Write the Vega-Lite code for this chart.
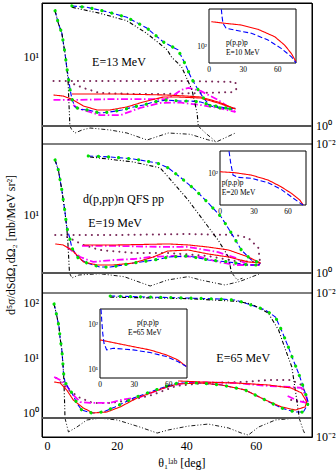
{
"$schema":"https://vega.github.io/schema/vega-lite/v6.json",
"width":270,"height":434,
"autosize":{"type":"none"},
"padding":{"left":42,"top":3,"right":24,"bottom":37},
"config":{"view":{"stroke":"#000","strokeWidth":1},"font":"Liberation Serif",
"axis":{"grid":false,"domain":false,"labels":false,"tickColor":"#000","tickWidth":1,"title":null},
"text":{"font":"Liberation Serif","color":"#000"}},
"data":{"values":[
{"p":1,"r":"m","s":"b","br":"a","x":2.16,"y":30.9},{"p":1,"r":"m","s":"b","br":"a","x":3.1,"y":22.7},{"p":1,"r":"m","s":"b","br":"a","x":4.1,"y":17.9},{"p":1,"r":"m","s":"b","br":"a","x":5,"y":11},{"p":1,"r":"m","s":"b","br":"a","x":5.5,"y":7.84},{"p":1,"r":"m","s":"b","br":"a","x":6,"y":6},{"p":1,"r":"m","s":"b","br":"a","x":6.5,"y":4.48},{"p":1,"r":"m","s":"b","br":"a","x":7,"y":3.59},{"p":1,"r":"m","s":"b","br":"a","x":7.9,"y":2.96},{"p":1,"r":"m","s":"b","br":"a","x":9.5,"y":2.78},{"p":1,"r":"m","s":"b","br":"a","x":11.7,"y":2.75},{"p":1,"r":"m","s":"b","br":"a","x":15,"y":2.55},{"p":1,"r":"m","s":"b","br":"a","x":18,"y":2.62},{"p":1,"r":"m","s":"b","br":"a","x":21.4,"y":2.75},{"p":1,"r":"m","s":"b","br":"a","x":24.7,"y":2.96},{"p":1,"r":"m","s":"b","br":"a","x":27.6,"y":3.1},{"p":1,"r":"m","s":"b","br":"a","x":30.4,"y":3.34},{"p":1,"r":"m","s":"b","br":"a","x":34.3,"y":3.5},{"p":1,"r":"m","s":"b","br":"a","x":38,"y":3.42},{"p":1,"r":"m","s":"b","br":"a","x":41,"y":3.42},{"p":1,"r":"m","s":"b","br":"a","x":44,"y":3.34},{"p":1,"r":"m","s":"b","br":"a","x":46.8,"y":3.1},{"p":1,"r":"m","s":"b","br":"a","x":49.6,"y":2.96},{"p":1,"r":"m","s":"b","br":"a","x":52.8,"y":2.82},{"p":1,"r":"m","s":"b","br":"a","x":54,"y":2.89},
{"p":1,"r":"m","s":"b","br":"b","x":7,"y":34.7},{"p":1,"r":"m","s":"b","br":"b","x":11.3,"y":33.6},{"p":1,"r":"m","s":"b","br":"b","x":17,"y":30.2},{"p":1,"r":"m","s":"b","br":"b","x":22.8,"y":26.3},{"p":1,"r":"m","s":"b","br":"b","x":28.5,"y":20.3},{"p":1,"r":"m","s":"b","br":"b","x":33.3,"y":14.4},{"p":1,"r":"m","s":"b","br":"b","x":37.5,"y":11.9},{"p":1,"r":"m","s":"b","br":"b","x":39.5,"y":8.5},{"p":1,"r":"m","s":"b","br":"b","x":41.3,"y":6},{"p":1,"r":"m","s":"b","br":"b","x":43.3,"y":4.48},{"p":1,"r":"m","s":"b","br":"b","x":44.8,"y":3.68},{"p":1,"r":"m","s":"b","br":"b","x":46.8,"y":3.03},{"p":1,"r":"m","s":"b","br":"b","x":49.6,"y":2.89},{"p":1,"r":"m","s":"b","br":"b","x":52.8,"y":2.82},{"p":1,"r":"m","s":"b","br":"b","x":54,"y":2.89},
{"p":1,"r":"m","s":"g","br":"a","x":2.16,"y":30.9},{"p":1,"r":"m","s":"g","br":"a","x":3.1,"y":22.7},{"p":1,"r":"m","s":"g","br":"a","x":4.1,"y":17.9},{"p":1,"r":"m","s":"g","br":"a","x":5,"y":11},{"p":1,"r":"m","s":"g","br":"a","x":5.5,"y":7.84},{"p":1,"r":"m","s":"g","br":"a","x":6,"y":6},{"p":1,"r":"m","s":"g","br":"a","x":6.5,"y":4.48},{"p":1,"r":"m","s":"g","br":"a","x":7,"y":3.59},{"p":1,"r":"m","s":"g","br":"a","x":7.9,"y":2.96},{"p":1,"r":"m","s":"g","br":"a","x":9.5,"y":2.78},{"p":1,"r":"m","s":"g","br":"a","x":11.7,"y":2.75},{"p":1,"r":"m","s":"g","br":"a","x":15,"y":2.55},{"p":1,"r":"m","s":"g","br":"a","x":18,"y":2.62},{"p":1,"r":"m","s":"g","br":"a","x":21.4,"y":2.75},{"p":1,"r":"m","s":"g","br":"a","x":24.7,"y":2.96},{"p":1,"r":"m","s":"g","br":"a","x":27.6,"y":3.1},{"p":1,"r":"m","s":"g","br":"a","x":30.4,"y":3.34},{"p":1,"r":"m","s":"g","br":"a","x":34.3,"y":3.5},{"p":1,"r":"m","s":"g","br":"a","x":38,"y":3.42},{"p":1,"r":"m","s":"g","br":"a","x":41,"y":3.42},{"p":1,"r":"m","s":"g","br":"a","x":44,"y":3.34},{"p":1,"r":"m","s":"g","br":"a","x":46.8,"y":3.1},{"p":1,"r":"m","s":"g","br":"a","x":49.6,"y":2.96},{"p":1,"r":"m","s":"g","br":"a","x":52.8,"y":2.82},{"p":1,"r":"m","s":"g","br":"a","x":54,"y":2.89},
{"p":1,"r":"m","s":"g","br":"b","x":7,"y":34.7},{"p":1,"r":"m","s":"g","br":"b","x":11.3,"y":33.6},{"p":1,"r":"m","s":"g","br":"b","x":17,"y":30.2},{"p":1,"r":"m","s":"g","br":"b","x":22.8,"y":26.3},{"p":1,"r":"m","s":"g","br":"b","x":28.5,"y":20.3},{"p":1,"r":"m","s":"g","br":"b","x":33.3,"y":14.4},{"p":1,"r":"m","s":"g","br":"b","x":37.5,"y":11.9},{"p":1,"r":"m","s":"g","br":"b","x":39.5,"y":8.5},{"p":1,"r":"m","s":"g","br":"b","x":41.3,"y":6},{"p":1,"r":"m","s":"g","br":"b","x":43.3,"y":4.48},{"p":1,"r":"m","s":"g","br":"b","x":44.8,"y":3.68},{"p":1,"r":"m","s":"g","br":"b","x":46.8,"y":3.03},{"p":1,"r":"m","s":"g","br":"b","x":49.6,"y":2.89},{"p":1,"r":"m","s":"g","br":"b","x":52.8,"y":2.82},{"p":1,"r":"m","s":"g","br":"b","x":54,"y":2.89},
{"p":1,"r":"m","s":"k","br":"a","x":2.16,"y":30.9},{"p":1,"r":"m","s":"k","br":"a","x":3.1,"y":22.7},{"p":1,"r":"m","s":"k","br":"a","x":4.1,"y":17.9},{"p":1,"r":"m","s":"k","br":"a","x":5,"y":11},{"p":1,"r":"m","s":"k","br":"a","x":5.5,"y":7.84},{"p":1,"r":"m","s":"k","br":"a","x":5.9,"y":5.6},{"p":1,"r":"m","s":"k","br":"a","x":6.1,"y":3.5},{"p":1,"r":"m","s":"k","br":"a","x":6.3,"y":2.4},{"p":1,"r":"m","s":"k","br":"a","x":6.4,"y":1.87},
{"p":1,"r":"m","s":"k","br":"b","x":7,"y":33.6},{"p":1,"r":"m","s":"k","br":"b","x":15.1,"y":29},{"p":1,"r":"m","s":"k","br":"b","x":22.8,"y":24.2},{"p":1,"r":"m","s":"k","br":"b","x":28.5,"y":17.8},{"p":1,"r":"m","s":"k","br":"b","x":34.4,"y":11.9},{"p":1,"r":"m","s":"k","br":"b","x":35.6,"y":10},{"p":1,"r":"m","s":"k","br":"b","x":38.5,"y":7.9},{"p":1,"r":"m","s":"k","br":"b","x":41.5,"y":4.48},{"p":1,"r":"m","s":"k","br":"b","x":43,"y":2.53},{"p":1,"r":"m","s":"k","br":"b","x":43.3,"y":1.87},
{"p":1,"r":"l","s":"k","br":"a","x":6.4,"y":1},{"p":1,"r":"l","s":"k","br":"a","x":7,"y":0.36},{"p":1,"r":"l","s":"k","br":"a","x":7.9,"y":0.167},{"p":1,"r":"l","s":"k","br":"a","x":9.9,"y":0.36},{"p":1,"r":"l","s":"k","br":"a","x":12.2,"y":0.6},{"p":1,"r":"l","s":"k","br":"a","x":18,"y":0.36},{"p":1,"r":"l","s":"k","br":"a","x":22.8,"y":0.167},{"p":1,"r":"l","s":"k","br":"a","x":28.6,"y":0.028},{"p":1,"r":"l","s":"k","br":"a","x":34.7,"y":0.167},{"p":1,"r":"l","s":"k","br":"a","x":41,"y":0.12},{"p":1,"r":"l","s":"k","br":"a","x":46,"y":0.03},{"p":1,"r":"l","s":"k","br":"a","x":48.5,"y":0.017},{"p":1,"r":"l","s":"k","br":"a","x":54,"y":0.167},
{"p":1,"r":"l","s":"k","br":"b","x":43.3,"y":1},{"p":1,"r":"l","s":"k","br":"b","x":45.5,"y":0.15},{"p":1,"r":"l","s":"k","br":"b","x":48.5,"y":0.017},
{"p":1,"r":"m","s":"r","br":"a","x":1.7,"y":3.96},{"p":1,"r":"m","s":"r","br":"a","x":4.5,"y":3.86},{"p":1,"r":"m","s":"r","br":"a","x":7,"y":3.57},{"p":1,"r":"m","s":"r","br":"a","x":10.3,"y":3.03},{"p":1,"r":"m","s":"r","br":"a","x":14.2,"y":2.75},{"p":1,"r":"m","s":"r","br":"a","x":18,"y":2.75},{"p":1,"r":"m","s":"r","br":"a","x":22.8,"y":2.96},{"p":1,"r":"m","s":"r","br":"a","x":27.5,"y":3.34},{"p":1,"r":"m","s":"r","br":"a","x":33.3,"y":3.77},{"p":1,"r":"m","s":"r","br":"a","x":37.5,"y":3.77},{"p":1,"r":"m","s":"r","br":"a","x":44,"y":3.68},{"p":1,"r":"m","s":"r","br":"a","x":49,"y":3.26},{"p":1,"r":"m","s":"r","br":"a","x":54,"y":2.82},
{"p":1,"r":"m","s":"r","br":"b","x":7,"y":4.06},{"p":1,"r":"m","s":"r","br":"b","x":20,"y":4.06},{"p":1,"r":"m","s":"r","br":"b","x":34,"y":3.96},{"p":1,"r":"m","s":"r","br":"b","x":40,"y":3.86},{"p":1,"r":"m","s":"r","br":"b","x":44,"y":3.77},{"p":1,"r":"m","s":"r","br":"b","x":49,"y":3.34},{"p":1,"r":"m","s":"r","br":"b","x":54,"y":2.82},
{"p":1,"r":"m","s":"m","br":"a","x":1.7,"y":3.51},{"p":1,"r":"m","s":"m","br":"a","x":7,"y":3.51},{"p":1,"r":"m","s":"m","br":"a","x":20,"y":3.59},{"p":1,"r":"m","s":"m","br":"a","x":34,"y":3.59},{"p":1,"r":"m","s":"m","br":"a","x":36.5,"y":4},{"p":1,"r":"m","s":"m","br":"a","x":38.4,"y":4.48},{"p":1,"r":"m","s":"m","br":"a","x":40.5,"y":4.7},{"p":1,"r":"m","s":"m","br":"a","x":44,"y":4.37},{"p":1,"r":"m","s":"m","br":"a","x":49,"y":3.51},{"p":1,"r":"m","s":"m","br":"a","x":54,"y":2.62},
{"p":1,"r":"m","s":"m","br":"b","x":7.4,"y":3.1},{"p":1,"r":"m","s":"m","br":"b","x":8.5,"y":2.89},{"p":1,"r":"m","s":"m","br":"b","x":15,"y":2.43},{"p":1,"r":"m","s":"m","br":"b","x":21,"y":2.43},{"p":1,"r":"m","s":"m","br":"b","x":26.6,"y":2.89},{"p":1,"r":"m","s":"m","br":"b","x":32.4,"y":3.26},{"p":1,"r":"m","s":"m","br":"b","x":38,"y":3.3},{"p":1,"r":"m","s":"m","br":"b","x":44,"y":3.1},{"p":1,"r":"m","s":"m","br":"b","x":49,"y":2.89},{"p":1,"r":"m","s":"m","br":"b","x":54,"y":2.62},
{"p":1,"r":"m","s":"d","br":"a","x":1.7,"y":5.57},{"p":1,"r":"m","s":"d","br":"a","x":20,"y":5.57},{"p":1,"r":"m","s":"d","br":"a","x":40,"y":5.57},{"p":1,"r":"m","s":"d","br":"a","x":54,"y":5.44},{"p":1,"r":"m","s":"d","br":"a","x":54.3,"y":4.3},
{"p":1,"r":"m","s":"d","br":"b","x":6,"y":5.44},{"p":1,"r":"m","s":"d","br":"b","x":10.3,"y":4.7},{"p":1,"r":"m","s":"d","br":"b","x":15,"y":4.16},{"p":1,"r":"m","s":"d","br":"b","x":24.7,"y":4.06},{"p":1,"r":"m","s":"d","br":"b","x":34,"y":4.06},{"p":1,"r":"m","s":"d","br":"b","x":44,"y":4.16},{"p":1,"r":"m","s":"d","br":"b","x":54.3,"y":4.26},
{"p":2,"r":"m","s":"b","br":"a","x":2.16,"y":45.6},{"p":2,"r":"m","s":"b","br":"a","x":3.1,"y":34.6},{"p":2,"r":"m","s":"b","br":"a","x":4.1,"y":19.9},{"p":2,"r":"m","s":"b","br":"a","x":5,"y":10.9},{"p":2,"r":"m","s":"b","br":"a","x":5.5,"y":7.18},{"p":2,"r":"m","s":"b","br":"a","x":6.3,"y":5.45},{"p":2,"r":"m","s":"b","br":"a","x":7,"y":4.03},{"p":2,"r":"m","s":"b","br":"a","x":8.8,"y":3.06},{"p":2,"r":"m","s":"b","br":"a","x":11.3,"y":2.66},{"p":2,"r":"m","s":"b","br":"a","x":15.1,"y":2.38},{"p":2,"r":"m","s":"b","br":"a","x":18,"y":2.38},{"p":2,"r":"m","s":"b","br":"a","x":21.7,"y":2.52},{"p":2,"r":"m","s":"b","br":"a","x":24.7,"y":2.66},{"p":2,"r":"m","s":"b","br":"a","x":28.6,"y":2.81},{"p":2,"r":"m","s":"b","br":"a","x":32.4,"y":2.97},{"p":2,"r":"m","s":"b","br":"a","x":34.7,"y":3.14},{"p":2,"r":"m","s":"b","br":"a","x":40.4,"y":3.23},{"p":2,"r":"m","s":"b","br":"a","x":46.2,"y":2.89},{"p":2,"r":"m","s":"b","br":"a","x":52,"y":2.74},{"p":2,"r":"m","s":"b","br":"a","x":57.7,"y":2.52},{"p":2,"r":"m","s":"b","br":"a","x":60.6,"y":2.52},{"p":2,"r":"m","s":"b","br":"a","x":61.2,"y":2.66},
{"p":2,"r":"m","s":"b","br":"b","x":11.7,"y":50.9},{"p":2,"r":"m","s":"b","br":"b","x":18,"y":49.5},{"p":2,"r":"m","s":"b","br":"b","x":24.7,"y":46.9},{"p":2,"r":"m","s":"b","br":"b","x":31.5,"y":41.9},{"p":2,"r":"m","s":"b","br":"b","x":34.7,"y":36.6},{"p":2,"r":"m","s":"b","br":"b","x":38.4,"y":27.7},{"p":2,"r":"m","s":"b","br":"b","x":42.5,"y":19.9},{"p":2,"r":"m","s":"b","br":"b","x":46.2,"y":13.9},{"p":2,"r":"m","s":"b","br":"b","x":49.9,"y":9.46},{"p":2,"r":"m","s":"b","br":"b","x":52.8,"y":6.09},{"p":2,"r":"m","s":"b","br":"b","x":55.7,"y":3.81},{"p":2,"r":"m","s":"b","br":"b","x":58.6,"y":2.89},{"p":2,"r":"m","s":"b","br":"b","x":61.2,"y":2.66},
{"p":2,"r":"m","s":"g","br":"a","x":2.16,"y":45.6},{"p":2,"r":"m","s":"g","br":"a","x":3.1,"y":34.6},{"p":2,"r":"m","s":"g","br":"a","x":4.1,"y":19.9},{"p":2,"r":"m","s":"g","br":"a","x":5,"y":10.9},{"p":2,"r":"m","s":"g","br":"a","x":5.5,"y":7.18},{"p":2,"r":"m","s":"g","br":"a","x":6.3,"y":5.45},{"p":2,"r":"m","s":"g","br":"a","x":7,"y":4.03},{"p":2,"r":"m","s":"g","br":"a","x":8.8,"y":3.06},{"p":2,"r":"m","s":"g","br":"a","x":11.3,"y":2.66},{"p":2,"r":"m","s":"g","br":"a","x":15.1,"y":2.38},{"p":2,"r":"m","s":"g","br":"a","x":18,"y":2.38},{"p":2,"r":"m","s":"g","br":"a","x":21.7,"y":2.52},{"p":2,"r":"m","s":"g","br":"a","x":24.7,"y":2.66},{"p":2,"r":"m","s":"g","br":"a","x":28.6,"y":2.81},{"p":2,"r":"m","s":"g","br":"a","x":32.4,"y":2.97},{"p":2,"r":"m","s":"g","br":"a","x":34.7,"y":3.14},{"p":2,"r":"m","s":"g","br":"a","x":40.4,"y":3.23},{"p":2,"r":"m","s":"g","br":"a","x":46.2,"y":2.89},{"p":2,"r":"m","s":"g","br":"a","x":52,"y":2.74},{"p":2,"r":"m","s":"g","br":"a","x":57.7,"y":2.52},{"p":2,"r":"m","s":"g","br":"a","x":60.6,"y":2.52},{"p":2,"r":"m","s":"g","br":"a","x":61.2,"y":2.66},
{"p":2,"r":"m","s":"g","br":"b","x":11.7,"y":50.9},{"p":2,"r":"m","s":"g","br":"b","x":18,"y":49.5},{"p":2,"r":"m","s":"g","br":"b","x":24.7,"y":46.9},{"p":2,"r":"m","s":"g","br":"b","x":31.5,"y":41.9},{"p":2,"r":"m","s":"g","br":"b","x":34.7,"y":36.6},{"p":2,"r":"m","s":"g","br":"b","x":38.4,"y":27.7},{"p":2,"r":"m","s":"g","br":"b","x":42.5,"y":19.9},{"p":2,"r":"m","s":"g","br":"b","x":46.2,"y":13.9},{"p":2,"r":"m","s":"g","br":"b","x":49.9,"y":9.46},{"p":2,"r":"m","s":"g","br":"b","x":52.8,"y":6.09},{"p":2,"r":"m","s":"g","br":"b","x":55.7,"y":3.81},{"p":2,"r":"m","s":"g","br":"b","x":58.6,"y":2.89},{"p":2,"r":"m","s":"g","br":"b","x":61.2,"y":2.66},
{"p":2,"r":"m","s":"k","br":"a","x":2.16,"y":45.6},{"p":2,"r":"m","s":"k","br":"a","x":3.1,"y":34.6},{"p":2,"r":"m","s":"k","br":"a","x":4.1,"y":19.9},{"p":2,"r":"m","s":"k","br":"a","x":5,"y":10.9},{"p":2,"r":"m","s":"k","br":"a","x":5.5,"y":7.18},{"p":2,"r":"m","s":"k","br":"a","x":5.8,"y":5},{"p":2,"r":"m","s":"k","br":"a","x":6,"y":3.5},{"p":2,"r":"m","s":"k","br":"a","x":6.2,"y":2.4},{"p":2,"r":"m","s":"k","br":"a","x":6.3,"y":2.03},
{"p":2,"r":"m","s":"k","br":"b","x":12.2,"y":49.5},{"p":2,"r":"m","s":"k","br":"b","x":24.7,"y":43.1},{"p":2,"r":"m","s":"k","br":"b","x":32.4,"y":36.6},{"p":2,"r":"m","s":"k","br":"b","x":34.7,"y":28.5},{"p":2,"r":"m","s":"k","br":"b","x":40.4,"y":15.1},{"p":2,"r":"m","s":"k","br":"b","x":46.2,"y":7.18},{"p":2,"r":"m","s":"k","br":"b","x":49,"y":5.02},{"p":2,"r":"m","s":"k","br":"b","x":52,"y":3.14},{"p":2,"r":"m","s":"k","br":"b","x":52.8,"y":2.08},{"p":2,"r":"m","s":"k","br":"b","x":53,"y":2.03},
{"p":2,"r":"l","s":"k","br":"a","x":6.3,"y":1},{"p":2,"r":"l","s":"k","br":"a","x":7,"y":0.32},{"p":2,"r":"l","s":"k","br":"a","x":9,"y":0.63},{"p":2,"r":"l","s":"k","br":"a","x":15,"y":0.85},{"p":2,"r":"l","s":"k","br":"a","x":22,"y":0.43},{"p":2,"r":"l","s":"k","br":"a","x":29.5,"y":0.05},{"p":2,"r":"l","s":"k","br":"a","x":34.5,"y":0.2},{"p":2,"r":"l","s":"k","br":"a","x":40.4,"y":0.43},{"p":2,"r":"l","s":"k","br":"a","x":44,"y":0.2},{"p":2,"r":"l","s":"k","br":"a","x":51,"y":0.063},{"p":2,"r":"l","s":"k","br":"a","x":55,"y":0.135},{"p":2,"r":"l","s":"k","br":"a","x":57.7,"y":0.3},{"p":2,"r":"l","s":"k","br":"a","x":61.2,"y":0.9},
{"p":2,"r":"l","s":"k","br":"b","x":53,"y":1},{"p":2,"r":"l","s":"k","br":"b","x":54.5,"y":0.2},{"p":2,"r":"l","s":"k","br":"b","x":56,"y":0.3},
{"p":2,"r":"m","s":"r","br":"a","x":2.2,"y":4.5},{"p":2,"r":"m","s":"r","br":"a","x":4.5,"y":4.38},{"p":2,"r":"m","s":"r","br":"a","x":7,"y":3.81},{"p":2,"r":"m","s":"r","br":"a","x":10.3,"y":2.74},{"p":2,"r":"m","s":"r","br":"a","x":14.2,"y":2.52},{"p":2,"r":"m","s":"r","br":"a","x":18.9,"y":2.52},{"p":2,"r":"m","s":"r","br":"a","x":24.7,"y":2.66},{"p":2,"r":"m","s":"r","br":"a","x":30.4,"y":3.14},{"p":2,"r":"m","s":"r","br":"a","x":34.5,"y":3.7},{"p":2,"r":"m","s":"r","br":"a","x":40.4,"y":3.81},{"p":2,"r":"m","s":"r","br":"a","x":46.2,"y":3.41},{"p":2,"r":"m","s":"r","br":"a","x":52,"y":3.14},{"p":2,"r":"m","s":"r","br":"a","x":57.7,"y":2.74},{"p":2,"r":"m","s":"r","br":"a","x":61.2,"y":2.66},
{"p":2,"r":"m","s":"r","br":"b","x":10.3,"y":4.38},{"p":2,"r":"m","s":"r","br":"b","x":20,"y":4.38},{"p":2,"r":"m","s":"r","br":"b","x":34.7,"y":4.5},{"p":2,"r":"m","s":"r","br":"b","x":40.4,"y":4.38},{"p":2,"r":"m","s":"r","br":"b","x":46,"y":4.14},{"p":2,"r":"m","s":"r","br":"b","x":52,"y":3.81},{"p":2,"r":"m","s":"r","br":"b","x":57.7,"y":3.14},{"p":2,"r":"m","s":"r","br":"b","x":61.2,"y":2.66},
{"p":2,"r":"m","s":"m","br":"a","x":9.9,"y":4.26},{"p":2,"r":"m","s":"m","br":"a","x":20,"y":4.26},{"p":2,"r":"m","s":"m","br":"a","x":34.3,"y":4.14},{"p":2,"r":"m","s":"m","br":"a","x":40.4,"y":4.14},{"p":2,"r":"m","s":"m","br":"a","x":49,"y":3.6},{"p":2,"r":"m","s":"m","br":"a","x":54,"y":3.06},{"p":2,"r":"m","s":"m","br":"a","x":57.7,"y":2.52},{"p":2,"r":"m","s":"m","br":"a","x":61,"y":2.52},
{"p":2,"r":"m","s":"m","br":"b","x":5.6,"y":4.14},{"p":2,"r":"m","s":"m","br":"b","x":9.4,"y":3.14},{"p":2,"r":"m","s":"m","br":"b","x":13.1,"y":2.74},{"p":2,"r":"m","s":"m","br":"b","x":18.9,"y":2.89},{"p":2,"r":"m","s":"m","br":"b","x":24.7,"y":2.97},{"p":2,"r":"m","s":"m","br":"b","x":29.5,"y":3.14},{"p":2,"r":"m","s":"m","br":"b","x":36,"y":3.23},{"p":2,"r":"m","s":"m","br":"b","x":44,"y":3.14},{"p":2,"r":"m","s":"m","br":"b","x":49,"y":2.74},{"p":2,"r":"m","s":"m","br":"b","x":54,"y":2.52},{"p":2,"r":"m","s":"m","br":"b","x":61,"y":2.52},
{"p":2,"r":"m","s":"d","br":"a","x":2.2,"y":5.76},{"p":2,"r":"m","s":"d","br":"a","x":20,"y":5.76},{"p":2,"r":"m","s":"d","br":"a","x":40,"y":5.92},{"p":2,"r":"m","s":"d","br":"a","x":54,"y":5.76},{"p":2,"r":"m","s":"d","br":"a","x":57.7,"y":5.31},{"p":2,"r":"m","s":"d","br":"a","x":60.6,"y":4.03},{"p":2,"r":"m","s":"d","br":"a","x":61,"y":2.89},
{"p":2,"r":"m","s":"d","br":"b","x":5.6,"y":5.45},{"p":2,"r":"m","s":"d","br":"b","x":10.3,"y":4.38},{"p":2,"r":"m","s":"d","br":"b","x":15,"y":3.81},{"p":2,"r":"m","s":"d","br":"b","x":24.7,"y":3.51},{"p":2,"r":"m","s":"d","br":"b","x":34.7,"y":3.51},{"p":2,"r":"m","s":"d","br":"b","x":46,"y":3.23},{"p":2,"r":"m","s":"d","br":"b","x":54,"y":2.81},{"p":2,"r":"m","s":"d","br":"b","x":60.6,"y":2.74},
{"p":3,"r":"m","s":"b","br":"a","x":1.87,"y":95.9},{"p":3,"r":"m","s":"b","br":"a","x":2.6,"y":60.5},{"p":3,"r":"m","s":"b","br":"a","x":3.3,"y":36.6},{"p":3,"r":"m","s":"b","br":"a","x":3.6,"y":23.1},{"p":3,"r":"m","s":"b","br":"a","x":4.1,"y":14},{"p":3,"r":"m","s":"b","br":"a","x":4.4,"y":8.11},{"p":3,"r":"m","s":"b","br":"a","x":4.55,"y":5.56},{"p":3,"r":"m","s":"b","br":"a","x":5,"y":3.66},{"p":3,"r":"m","s":"b","br":"a","x":6,"y":2.85},{"p":3,"r":"m","s":"b","br":"a","x":7,"y":2.31},{"p":3,"r":"m","s":"b","br":"a","x":8.4,"y":1.52},{"p":3,"r":"m","s":"b","br":"a","x":9.8,"y":1.13},{"p":3,"r":"m","s":"b","br":"a","x":12.7,"y":1},{"p":3,"r":"m","s":"b","br":"a","x":16,"y":1.04},{"p":3,"r":"m","s":"b","br":"a","x":19.4,"y":1.29},{"p":3,"r":"m","s":"b","br":"a","x":24.7,"y":1.87},{"p":3,"r":"m","s":"b","br":"a","x":29.5,"y":2.41},{"p":3,"r":"m","s":"b","br":"a","x":34.4,"y":3.1},{"p":3,"r":"m","s":"b","br":"a","x":37.5,"y":3.51},{"p":3,"r":"m","s":"b","br":"a","x":43.3,"y":3.51},{"p":3,"r":"m","s":"b","br":"a","x":50,"y":3.23},{"p":3,"r":"m","s":"b","br":"a","x":56.8,"y":2.62},{"p":3,"r":"m","s":"b","br":"a","x":62.6,"y":1.72},{"p":3,"r":"m","s":"b","br":"a","x":67.2,"y":1.23},{"p":3,"r":"m","s":"b","br":"a","x":71.2,"y":1.04},{"p":3,"r":"m","s":"b","br":"a","x":73.5,"y":1.04},{"p":3,"r":"m","s":"b","br":"a","x":75,"y":1.52},
{"p":3,"r":"m","s":"b","br":"b","x":18,"y":134},{"p":3,"r":"m","s":"b","br":"b","x":30,"y":128},{"p":3,"r":"m","s":"b","br":"b","x":40,"y":123},{"p":3,"r":"m","s":"b","br":"b","x":50,"y":118},{"p":3,"r":"m","s":"b","br":"b","x":54,"y":113},{"p":3,"r":"m","s":"b","br":"b","x":56.8,"y":100},{"p":3,"r":"m","s":"b","br":"b","x":62.6,"y":74.6},{"p":3,"r":"m","s":"b","br":"b","x":65.5,"y":55.6},{"p":3,"r":"m","s":"b","br":"b","x":67.2,"y":32.3},{"p":3,"r":"m","s":"b","br":"b","x":69.2,"y":15.8},{"p":3,"r":"m","s":"b","br":"b","x":70.6,"y":9.2},{"p":3,"r":"m","s":"b","br":"b","x":72.1,"y":5.34},{"p":3,"r":"m","s":"b","br":"b","x":73.5,"y":2.97},{"p":3,"r":"m","s":"b","br":"b","x":75,"y":1.52},
{"p":3,"r":"m","s":"g","br":"a","x":1.87,"y":95.9},{"p":3,"r":"m","s":"g","br":"a","x":2.6,"y":60.5},{"p":3,"r":"m","s":"g","br":"a","x":3.3,"y":36.6},{"p":3,"r":"m","s":"g","br":"a","x":3.6,"y":23.1},{"p":3,"r":"m","s":"g","br":"a","x":4.1,"y":14},{"p":3,"r":"m","s":"g","br":"a","x":4.4,"y":8.11},{"p":3,"r":"m","s":"g","br":"a","x":4.55,"y":5.56},{"p":3,"r":"m","s":"g","br":"a","x":5,"y":3.66},{"p":3,"r":"m","s":"g","br":"a","x":6,"y":2.85},{"p":3,"r":"m","s":"g","br":"a","x":7,"y":2.31},{"p":3,"r":"m","s":"g","br":"a","x":8.4,"y":1.52},{"p":3,"r":"m","s":"g","br":"a","x":9.8,"y":1.13},{"p":3,"r":"m","s":"g","br":"a","x":12.7,"y":1},{"p":3,"r":"m","s":"g","br":"a","x":16,"y":1.04},{"p":3,"r":"m","s":"g","br":"a","x":19.4,"y":1.29},{"p":3,"r":"m","s":"g","br":"a","x":24.7,"y":1.87},{"p":3,"r":"m","s":"g","br":"a","x":29.5,"y":2.41},{"p":3,"r":"m","s":"g","br":"a","x":34.4,"y":3.1},{"p":3,"r":"m","s":"g","br":"a","x":37.5,"y":3.51},{"p":3,"r":"m","s":"g","br":"a","x":43.3,"y":3.51},{"p":3,"r":"m","s":"g","br":"a","x":50,"y":3.23},{"p":3,"r":"m","s":"g","br":"a","x":56.8,"y":2.62},{"p":3,"r":"m","s":"g","br":"a","x":62.6,"y":1.72},{"p":3,"r":"m","s":"g","br":"a","x":67.2,"y":1.23},{"p":3,"r":"m","s":"g","br":"a","x":71.2,"y":1.04},{"p":3,"r":"m","s":"g","br":"a","x":73.5,"y":1.04},{"p":3,"r":"m","s":"g","br":"a","x":75,"y":1.52},
{"p":3,"r":"m","s":"g","br":"b","x":18,"y":134},{"p":3,"r":"m","s":"g","br":"b","x":30,"y":128},{"p":3,"r":"m","s":"g","br":"b","x":40,"y":123},{"p":3,"r":"m","s":"g","br":"b","x":50,"y":118},{"p":3,"r":"m","s":"g","br":"b","x":54,"y":113},{"p":3,"r":"m","s":"g","br":"b","x":56.8,"y":100},{"p":3,"r":"m","s":"g","br":"b","x":62.6,"y":74.6},{"p":3,"r":"m","s":"g","br":"b","x":65.5,"y":55.6},{"p":3,"r":"m","s":"g","br":"b","x":67.2,"y":32.3},{"p":3,"r":"m","s":"g","br":"b","x":69.2,"y":15.8},{"p":3,"r":"m","s":"g","br":"b","x":70.6,"y":9.2},{"p":3,"r":"m","s":"g","br":"b","x":72.1,"y":5.34},{"p":3,"r":"m","s":"g","br":"b","x":73.5,"y":2.97},{"p":3,"r":"m","s":"g","br":"b","x":75,"y":1.52},
{"p":3,"r":"m","s":"k","br":"a","x":1.87,"y":95.9},{"p":3,"r":"m","s":"k","br":"a","x":2.6,"y":60.5},{"p":3,"r":"m","s":"k","br":"a","x":3.3,"y":36.6},{"p":3,"r":"m","s":"k","br":"a","x":3.6,"y":23.1},{"p":3,"r":"m","s":"k","br":"a","x":4.1,"y":14},{"p":3,"r":"m","s":"k","br":"a","x":4.4,"y":8.11},{"p":3,"r":"m","s":"k","br":"a","x":4.6,"y":5.2},{"p":3,"r":"m","s":"k","br":"a","x":4.75,"y":3},{"p":3,"r":"m","s":"k","br":"a","x":4.9,"y":1.5},{"p":3,"r":"m","s":"k","br":"a","x":5,"y":0.85},
{"p":3,"r":"m","s":"k","br":"b","x":18,"y":128},{"p":3,"r":"m","s":"k","br":"b","x":40,"y":120},{"p":3,"r":"m","s":"k","br":"b","x":54,"y":108},{"p":3,"r":"m","s":"k","br":"b","x":58.6,"y":96},{"p":3,"r":"m","s":"k","br":"b","x":63.4,"y":65.8},{"p":3,"r":"m","s":"k","br":"b","x":66.4,"y":32.3},{"p":3,"r":"m","s":"k","br":"b","x":68.4,"y":14},{"p":3,"r":"m","s":"k","br":"b","x":70.2,"y":6.86},{"p":3,"r":"m","s":"k","br":"b","x":71.5,"y":1.95},{"p":3,"r":"m","s":"k","br":"b","x":72.3,"y":0.85},
{"p":3,"r":"l","s":"k","br":"a","x":5,"y":1},{"p":3,"r":"l","s":"k","br":"a","x":6,"y":0.034},{"p":3,"r":"l","s":"k","br":"a","x":8.4,"y":0.11},{"p":3,"r":"l","s":"k","br":"a","x":11.3,"y":0.62},{"p":3,"r":"l","s":"k","br":"a","x":15.1,"y":0.95},{"p":3,"r":"l","s":"k","br":"a","x":20,"y":0.62},{"p":3,"r":"l","s":"k","br":"a","x":26.6,"y":0.11},{"p":3,"r":"l","s":"k","br":"a","x":31.5,"y":0.026},{"p":3,"r":"l","s":"k","br":"a","x":34.7,"y":0.055},{"p":3,"r":"l","s":"k","br":"a","x":40.4,"y":0.14},{"p":3,"r":"l","s":"k","br":"a","x":46.2,"y":0.23},{"p":3,"r":"l","s":"k","br":"a","x":52,"y":0.089},{"p":3,"r":"l","s":"k","br":"a","x":55.7,"y":0.026},{"p":3,"r":"l","s":"k","br":"a","x":57.7,"y":0.016},{"p":3,"r":"l","s":"k","br":"a","x":60.6,"y":0.11},{"p":3,"r":"l","s":"k","br":"a","x":65.5,"y":0.62},{"p":3,"r":"l","s":"k","br":"a","x":71.2,"y":0.95},{"p":3,"r":"l","s":"k","br":"a","x":72.5,"y":0.9},
{"p":3,"r":"l","s":"k","br":"b","x":72.3,"y":1},{"p":3,"r":"l","s":"k","br":"b","x":73.5,"y":0.05},{"p":3,"r":"l","s":"k","br":"b","x":74,"y":0.02},
{"p":3,"r":"m","s":"r","br":"a","x":1.9,"y":3.66},{"p":3,"r":"m","s":"r","br":"a","x":3.6,"y":3.51},{"p":3,"r":"m","s":"r","br":"a","x":5.5,"y":2.62},{"p":3,"r":"m","s":"r","br":"a","x":7.4,"y":1.72},{"p":3,"r":"m","s":"r","br":"a","x":10.3,"y":1.23},{"p":3,"r":"m","s":"r","br":"a","x":13.1,"y":1},{"p":3,"r":"m","s":"r","br":"a","x":17,"y":1.04},{"p":3,"r":"m","s":"r","br":"a","x":20.9,"y":1.29},{"p":3,"r":"m","s":"r","br":"a","x":25.7,"y":1.87},{"p":3,"r":"m","s":"r","br":"a","x":30.4,"y":2.41},{"p":3,"r":"m","s":"r","br":"a","x":34.3,"y":2.97},{"p":3,"r":"m","s":"r","br":"a","x":37.5,"y":3.37},{"p":3,"r":"m","s":"r","br":"a","x":44,"y":3.51},{"p":3,"r":"m","s":"r","br":"a","x":50,"y":3.23},{"p":3,"r":"m","s":"r","br":"a","x":56.8,"y":2.62},{"p":3,"r":"m","s":"r","br":"a","x":62.6,"y":1.72},{"p":3,"r":"m","s":"r","br":"a","x":67.2,"y":1.29},{"p":3,"r":"m","s":"r","br":"a","x":71.2,"y":1.13},{"p":3,"r":"m","s":"r","br":"a","x":74,"y":1.29},{"p":3,"r":"m","s":"r","br":"a","x":74.5,"y":1.58},
{"p":3,"r":"m","s":"r","br":"b","x":37.5,"y":3.82},{"p":3,"r":"m","s":"r","br":"b","x":44,"y":3.66},{"p":3,"r":"m","s":"r","br":"b","x":54,"y":3.51},{"p":3,"r":"m","s":"r","br":"b","x":63.5,"y":3.23},{"p":3,"r":"m","s":"r","br":"b","x":70,"y":2.85},{"p":3,"r":"m","s":"r","br":"b","x":73,"y":2.31},{"p":3,"r":"m","s":"r","br":"b","x":74.5,"y":1.58},
{"p":3,"r":"m","s":"m","br":"a","x":1.9,"y":4.52},{"p":3,"r":"m","s":"m","br":"a","x":3.6,"y":3.98},{"p":3,"r":"m","s":"m","br":"a","x":5.5,"y":3.1},{"p":3,"r":"m","s":"m","br":"a","x":7.4,"y":2.12},{"p":3,"r":"m","s":"m","br":"a","x":9.4,"y":1.58},{"p":3,"r":"m","s":"m","br":"a","x":12.2,"y":1.52},{"p":3,"r":"m","s":"m","br":"a","x":18,"y":1.52},{"p":3,"r":"m","s":"m","br":"a","x":20.9,"y":1.72},{"p":3,"r":"m","s":"m","br":"a","x":26.6,"y":1.95},{"p":3,"r":"m","s":"m","br":"a","x":34.3,"y":2.97},{"p":3,"r":"m","s":"m","br":"a","x":40.4,"y":3.66},{"p":3,"r":"m","s":"m","br":"a","x":54,"y":3.51},{"p":3,"r":"m","s":"m","br":"a","x":63.5,"y":3.1},{"p":3,"r":"m","s":"m","br":"a","x":70,"y":2.97},{"p":3,"r":"m","s":"m","br":"a","x":73,"y":2.85},{"p":3,"r":"m","s":"m","br":"a","x":74.4,"y":1.95},{"p":3,"r":"m","s":"m","br":"a","x":74.6,"y":1.52},
{"p":3,"r":"m","s":"m","br":"b","x":69,"y":2.03},{"p":3,"r":"m","s":"m","br":"b","x":72,"y":1.65},{"p":3,"r":"m","s":"m","br":"b","x":74.6,"y":1.52},
{"p":3,"r":"m","s":"d","br":"a","x":2.5,"y":4.33},{"p":3,"r":"m","s":"d","br":"a","x":6,"y":2.62},{"p":3,"r":"m","s":"d","br":"a","x":9.4,"y":1.87},{"p":3,"r":"m","s":"d","br":"a","x":13.1,"y":1.52},{"p":3,"r":"m","s":"d","br":"a","x":18,"y":1.52},{"p":3,"r":"m","s":"d","br":"a","x":24,"y":1.72},{"p":3,"r":"m","s":"d","br":"a","x":30,"y":2.12},{"p":3,"r":"m","s":"d","br":"a","x":37,"y":3.1},{"p":3,"r":"m","s":"d","br":"a","x":45,"y":3.51},{"p":3,"r":"m","s":"d","br":"a","x":56.8,"y":3.66},{"p":3,"r":"m","s":"d","br":"a","x":63.5,"y":3.98},{"p":3,"r":"m","s":"d","br":"a","x":70,"y":3.98},{"p":3,"r":"m","s":"d","br":"a","x":73,"y":3.23},{"p":3,"r":"m","s":"d","br":"a","x":75,"y":1.72},
{"p":3,"r":"m","s":"d","br":"b","x":70,"y":1.72},{"p":3,"r":"m","s":"d","br":"b","x":73,"y":1.58},{"p":3,"r":"m","s":"d","br":"b","x":75,"y":1.72},
{"p":1,"r":"i","s":"r","br":"a","x":2,"y":429},{"p":1,"r":"i","s":"r","br":"a","x":13.7,"y":392},{"p":1,"r":"i","s":"r","br":"a","x":28,"y":355},{"p":1,"r":"i","s":"r","br":"a","x":42.8,"y":277},{"p":1,"r":"i","s":"r","br":"a","x":57.4,"y":181},{"p":1,"r":"i","s":"r","br":"a","x":66,"y":112},{"p":1,"r":"i","s":"r","br":"a","x":71.9,"y":69},{"p":1,"r":"i","s":"r","br":"a","x":76,"y":43},
{"p":1,"r":"i","s":"b","br":"a","x":10.8,"y":880},{"p":1,"r":"i","s":"b","br":"a","x":11.4,"y":575},{"p":1,"r":"i","s":"b","br":"a","x":12.2,"y":392},{"p":1,"r":"i","s":"b","br":"a","x":15,"y":293},{"p":1,"r":"i","s":"b","br":"a","x":22.4,"y":266},{"p":1,"r":"i","s":"b","br":"a","x":37,"y":220},{"p":1,"r":"i","s":"b","br":"a","x":51.5,"y":150},{"p":1,"r":"i","s":"b","br":"a","x":63,"y":92.6},{"p":1,"r":"i","s":"b","br":"a","x":72,"y":57},{"p":1,"r":"i","s":"b","br":"a","x":76,"y":40},
{"p":2,"r":"i","s":"r","br":"a","x":0,"y":114},{"p":2,"r":"i","s":"r","br":"a","x":13,"y":108},{"p":2,"r":"i","s":"r","br":"a","x":27.7,"y":94},{"p":2,"r":"i","s":"r","br":"a","x":42.5,"y":70.8},{"p":2,"r":"i","s":"r","br":"a","x":54,"y":48},{"p":2,"r":"i","s":"r","br":"a","x":63,"y":33},{"p":2,"r":"i","s":"r","br":"a","x":70.5,"y":22.4},{"p":2,"r":"i","s":"r","br":"a","x":73.5,"y":16.8},
{"p":2,"r":"i","s":"b","br":"a","x":8,"y":370},{"p":2,"r":"i","s":"b","br":"a","x":9.5,"y":185},{"p":2,"r":"i","s":"b","br":"a","x":11.5,"y":94},{"p":2,"r":"i","s":"b","br":"a","x":16,"y":82.6},{"p":2,"r":"i","s":"b","br":"a","x":27.7,"y":78},{"p":2,"r":"i","s":"b","br":"a","x":42.5,"y":60.6},{"p":2,"r":"i","s":"b","br":"a","x":54,"y":41.4},{"p":2,"r":"i","s":"b","br":"a","x":63,"y":27},{"p":2,"r":"i","s":"b","br":"a","x":70.5,"y":19},{"p":2,"r":"i","s":"b","br":"a","x":73.5,"y":16.8},
{"p":3,"r":"i","s":"r","br":"a","x":0,"y":46.4},{"p":3,"r":"i","s":"r","br":"a","x":14.6,"y":39},{"p":3,"r":"i","s":"r","br":"a","x":29,"y":32.9},{"p":3,"r":"i","s":"r","br":"a","x":43.7,"y":27.8},{"p":3,"r":"i","s":"r","br":"a","x":58,"y":21.5},{"p":3,"r":"i","s":"r","br":"a","x":68,"y":16.7},{"p":3,"r":"i","s":"r","br":"a","x":75.4,"y":11.9},
{"p":3,"r":"i","s":"b","br":"a","x":0.9,"y":224},{"p":3,"r":"i","s":"b","br":"a","x":1.5,"y":129},{"p":3,"r":"i","s":"b","br":"a","x":2.4,"y":65},{"p":3,"r":"i","s":"b","br":"a","x":3.5,"y":39},{"p":3,"r":"i","s":"b","br":"a","x":5.8,"y":27.8},{"p":3,"r":"i","s":"b","br":"a","x":11.6,"y":30.3},{"p":3,"r":"i","s":"b","br":"a","x":29,"y":27.8},{"p":3,"r":"i","s":"b","br":"a","x":43.7,"y":24.3},{"p":3,"r":"i","s":"b","br":"a","x":58,"y":19.8},{"p":3,"r":"i","s":"b","br":"a","x":68,"y":15.3},{"p":3,"r":"i","s":"b","br":"a","x":75.4,"y":11.9}
]},
"layer":[
{"layer":[
 {"transform":[{"filter":"datum.p==1&&datum.r=='m'&&datum.s=='d'"}],"mark":{"type":"line","color":"#7a2a5a","strokeWidth":2,"strokeDash":[0.1,6],"strokeCap":"round"},
  "encoding":{"x":{"field":"x","type":"quantitative","scale":{"domain":[-1.6,76],"range":[0,270],"nice":false,"zero":false},"axis":{"orient":"top","offset":0,"values":[0,2.5,5,7.5,10,12.5,15,17.5,20,22.5,25,27.5,30,32.5,35,37.5,40,42.5,45,47.5,50,52.5,55,57.5,60,62.5,65,67.5,70,72.5,75],"labels":false,"tickSize":-4,"title":null}},
  "y":{"field":"y","type":"quantitative","scale":{"type":"log","domain":[1.86,37.3],"range":[123,0],"nice":false},"axis":{"orient":"left","values":[2,3,4,5,6,7,8,9,10,20,30],"labels":false,"tickSize":-4,"title":null}},
  "detail":{"field":"br"}}},
 {"transform":[{"filter":"datum.p==1&&datum.r=='m'&&datum.s=='m'"}],"mark":{"type":"line","color":"#ff00ff","strokeWidth":1.8,"strokeDash":[7,2.5,1.5,2.5]},
  "encoding":{"x":{"field":"x","type":"quantitative","scale":{"domain":[-1.6,76],"range":[0,270],"nice":false,"zero":false},"axis":null},"y":{"field":"y","type":"quantitative","scale":{"type":"log","domain":[1.86,37.3],"range":[123,0],"nice":false},"axis":null},"detail":{"field":"br"}}},
 {"transform":[{"filter":"datum.p==1&&datum.r=='m'&&(datum.s=='k'||datum.s=='r'||datum.s=='b')"}],"mark":{"type":"line","strokeWidth":1.1},
  "encoding":{"x":{"field":"x","type":"quantitative","scale":{"domain":[-1.6,76],"range":[0,270],"nice":false,"zero":false},"axis":null},"y":{"field":"y","type":"quantitative","scale":{"type":"log","domain":[1.86,37.3],"range":[123,0],"nice":false},"axis":null},
  "color":{"field":"s","type":"nominal","scale":{"domain":["k","r","b"],"range":["#000000","#ff0000","#0000ff"]},"legend":null},
  "strokeDash":{"field":"s","type":"nominal","scale":{"domain":["k","r","b"],"range":[[4,2,1,2,1,2],[1,0],[5,2.5]]},"legend":null},"detail":{"field":"br"}}},
 {"transform":[{"filter":"datum.p==1&&datum.r=='m'&&datum.s=='g'"}],"mark":{"type":"line","color":"#00e000","strokeWidth":3.2,"strokeDash":[0.1,10],"strokeCap":"round"},
  "encoding":{"x":{"field":"x","type":"quantitative","scale":{"domain":[-1.6,76],"range":[0,270],"nice":false,"zero":false},"axis":null},"y":{"field":"y","type":"quantitative","scale":{"type":"log","domain":[1.86,37.3],"range":[123,0],"nice":false},"axis":null},"detail":{"field":"br"}}},
 {"data":{"values":[{"t":"E=13 MeV","u":12.8,"v":8.85}]},"mark":{"type":"text","align":"left","baseline":"middle","fontSize":12},
  "encoding":{"text":{"field":"t"},"x":{"field":"u","type":"quantitative","scale":{"domain":[-1.6,76],"range":[0,270],"nice":false,"zero":false},"axis":null},"y":{"field":"v","type":"quantitative","scale":{"type":"log","domain":[1.86,37.3],"range":[123,0],"nice":false},"axis":null}}},
 {"data":{"values":[{"t":"10¹","v":10}]},"mark":{"type":"text","align":"right","baseline":"middle","dx":-3,"fontSize":12},
  "encoding":{"text":{"field":"t"},"x":{"datum":-1.6,"type":"quantitative","scale":{"domain":[-1.6,76],"range":[0,270],"nice":false,"zero":false},"axis":null},"y":{"field":"v","type":"quantitative","scale":{"type":"log","domain":[1.86,37.3],"range":[123,0],"nice":false},"axis":null}}},
 {"data":{"values":[{"u":-1.6},{"u":76}]},"mark":{"type":"rule","color":"#000","strokeWidth":1},
  "encoding":{"x":{"field":"u","type":"quantitative","scale":{"domain":[-1.6,76],"range":[0,270],"nice":false,"zero":false},"axis":null}}},
 {"data":{"values":[{}]},"mark":{"type":"rule","color":"#000","strokeWidth":1},
  "encoding":{"y":{"datum":37.3,"type":"quantitative","scale":{"type":"log","domain":[1.86,37.3],"range":[123,0],"nice":false},"axis":null}}}
]},
{"layer":[
 {"transform":[{"filter":"datum.p==1&&datum.r=='l'"}],"mark":{"type":"line","color":"#000","strokeWidth":0.9,"strokeDash":[4,2,1,2,1,2]},
  "encoding":{"x":{"field":"x","type":"quantitative","scale":{"domain":[-1.6,76],"range":[0,270],"nice":false,"zero":false},"axis":{"orient":"bottom","offset":-293,"values":[0,2.5,5,7.5,10,12.5,15,17.5,20,22.5,25,27.5,30,32.5,35,37.5,40,42.5,45,47.5,50,52.5,55,57.5,60,62.5,65,67.5,70,72.5,75],"labels":false,"tickSize":-4,"title":null}},
  "y":{"field":"y","type":"quantitative","scale":{"type":"log","domain":[0.01,1],"range":[141,123],"nice":false},"axis":{"orient":"right","values":[0.01,0.02,0.03,0.04,0.05,0.06,0.07,0.08,0.09,0.1,0.2,0.3,0.4,0.5,0.6,0.7,0.8,0.9,1],"labels":false,"tickSize":-3,"title":null}},
  "detail":{"field":"br"}}},
 {"data":{"values":[{}]},"mark":{"type":"rule","color":"#555","strokeWidth":2},"encoding":{"y":{"datum":1,"type":"quantitative","scale":{"type":"log","domain":[0.01,1],"range":[141,123],"nice":false},"axis":null}}},
 {"data":{"values":[{}]},"mark":{"type":"rule","color":"#000","strokeWidth":1},"encoding":{"y":{"datum":0.01,"type":"quantitative","scale":{"type":"log","domain":[0.01,1],"range":[141,123],"nice":false},"axis":null}}},
 {"data":{"values":[{"t":"10⁰","v":1},{"t":"10⁻²","v":0.01}]},"mark":{"type":"text","align":"left","baseline":"middle","dx":4,"fontSize":12},
  "encoding":{"text":{"field":"t"},"x":{"datum":76,"type":"quantitative","scale":{"domain":[-1.6,76],"range":[0,270],"nice":false,"zero":false},"axis":null},"y":{"field":"v","type":"quantitative","scale":{"type":"log","domain":[0.01,1],"range":[141,123],"nice":false},"axis":null}}}
]},
{"layer":[
 {"data":{"values":[{}]},"mark":{"type":"rect","fill":"#fff","stroke":"#000","strokeWidth":1},
  "encoding":{"x":{"datum":0,"type":"quantitative","scale":{"domain":[0,76],"range":[167,254],"nice":false,"zero":false},"axis":{"orient":"bottom","offset":-374,"zindex":1,"values":[0,5,10,15,20,25,30,35,40,45,50,55,60,65,70,75],"labels":false,"tickSize":-2,"title":null}},"x2":{"datum":76},
  "y":{"datum":39.8,"type":"quantitative","scale":{"type":"log","domain":[39.8,891],"range":[60,6],"nice":false},"axis":{"orient":"left","offset":-167,"zindex":1,"values":[40,50,60,70,80,90,100,200,300,400,500,600,700,800],"labels":false,"tickSize":-2,"title":null}},"y2":{"datum":891}}},
 {"transform":[{"filter":"datum.p==1&&datum.r=='i'"}],"mark":{"type":"line","strokeWidth":1.1},
  "encoding":{"x":{"field":"x","type":"quantitative","scale":{"domain":[0,76],"range":[167,254],"nice":false,"zero":false},"axis":null},"y":{"field":"y","type":"quantitative","scale":{"type":"log","domain":[39.8,891],"range":[60,6],"nice":false},"axis":null},
  "color":{"field":"s","type":"nominal","scale":{"domain":["k","r","b"],"range":["#000000","#ff0000","#0000ff"]},"legend":null},
  "strokeDash":{"field":"s","type":"nominal","scale":{"domain":["k","r","b"],"range":[[4,2,1,2,1,2],[1,0],[5,2.5]]},"legend":null}}},
 {"data":{"values":[{"t":"p(p,p)p","u":14.8,"v":126},{"t":"E=10 MeV","u":14.8,"v":70.8}]},"mark":{"type":"text","align":"left","baseline":"middle","fontSize":7.5},
  "encoding":{"text":{"field":"t"},"x":{"field":"u","type":"quantitative","scale":{"domain":[0,76],"range":[167,254],"nice":false,"zero":false},"axis":null},"y":{"field":"v","type":"quantitative","scale":{"type":"log","domain":[39.8,891],"range":[60,6],"nice":false},"axis":null}}},
 {"data":{"values":[{"t":"0","u":0},{"t":"30","u":30},{"t":"60","u":60}]},"mark":{"type":"text","align":"center","baseline":"top","dy":3,"fontSize":7.5},
  "encoding":{"text":{"field":"t"},"x":{"field":"u","type":"quantitative","scale":{"domain":[0,76],"range":[167,254],"nice":false,"zero":false},"axis":null},"y":{"datum":39.8,"type":"quantitative","scale":{"type":"log","domain":[39.8,891],"range":[60,6],"nice":false},"axis":null}}},
 {"data":{"values":[{"t":"10²","v":100}]},"mark":{"type":"text","align":"right","baseline":"middle","dx":-2,"fontSize":7.5},
  "encoding":{"text":{"field":"t"},"x":{"datum":0,"type":"quantitative","scale":{"domain":[0,76],"range":[167,254],"nice":false,"zero":false},"axis":null},"y":{"field":"v","type":"quantitative","scale":{"type":"log","domain":[39.8,891],"range":[60,6],"nice":false},"axis":null}}}
]},
{"layer":[
 {"transform":[{"filter":"datum.p==2&&datum.r=='m'&&datum.s=='d'"}],"mark":{"type":"line","color":"#7a2a5a","strokeWidth":2,"strokeDash":[0.1,6],"strokeCap":"round"},
  "encoding":{"x":{"field":"x","type":"quantitative","scale":{"domain":[-1.6,76],"range":[0,270],"nice":false,"zero":false},"axis":{"orient":"top","offset":-141,"values":[0,2.5,5,7.5,10,12.5,15,17.5,20,22.5,25,27.5,30,32.5,35,37.5,40,42.5,45,47.5,50,52.5,55,57.5,60,62.5,65,67.5,70,72.5,75],"labels":false,"tickSize":-4,"title":null}},
  "y":{"field":"y","type":"quantitative","scale":{"type":"log","domain":[2.02,70.8],"range":[270,141],"nice":false},"axis":{"orient":"left","values":[3,4,5,6,7,8,9,10,20,30,40,50,60,70],"labels":false,"tickSize":-4,"title":null}},
  "detail":{"field":"br"}}},
 {"transform":[{"filter":"datum.p==2&&datum.r=='m'&&datum.s=='m'"}],"mark":{"type":"line","color":"#ff00ff","strokeWidth":1.8,"strokeDash":[7,2.5,1.5,2.5]},
  "encoding":{"x":{"field":"x","type":"quantitative","scale":{"domain":[-1.6,76],"range":[0,270],"nice":false,"zero":false},"axis":null},"y":{"field":"y","type":"quantitative","scale":{"type":"log","domain":[2.02,70.8],"range":[270,141],"nice":false},"axis":null},"detail":{"field":"br"}}},
 {"transform":[{"filter":"datum.p==2&&datum.r=='m'&&(datum.s=='k'||datum.s=='r'||datum.s=='b')"}],"mark":{"type":"line","strokeWidth":1.1},
  "encoding":{"x":{"field":"x","type":"quantitative","scale":{"domain":[-1.6,76],"range":[0,270],"nice":false,"zero":false},"axis":null},"y":{"field":"y","type":"quantitative","scale":{"type":"log","domain":[2.02,70.8],"range":[270,141],"nice":false},"axis":null},
  "color":{"field":"s","type":"nominal","scale":{"domain":["k","r","b"],"range":["#000000","#ff0000","#0000ff"]},"legend":null},
  "strokeDash":{"field":"s","type":"nominal","scale":{"domain":["k","r","b"],"range":[[4,2,1,2,1,2],[1,0],[5,2.5]]},"legend":null},"detail":{"field":"br"}}},
 {"transform":[{"filter":"datum.p==2&&datum.r=='m'&&datum.s=='g'"}],"mark":{"type":"line","color":"#00e000","strokeWidth":3.2,"strokeDash":[0.1,10],"strokeCap":"round"},
  "encoding":{"x":{"field":"x","type":"quantitative","scale":{"domain":[-1.6,76],"range":[0,270],"nice":false,"zero":false},"axis":null},"y":{"field":"y","type":"quantitative","scale":{"type":"log","domain":[2.02,70.8],"range":[270,141],"nice":false},"axis":null},"detail":{"field":"br"}}},
 {"data":{"values":[{"t":"d(p,pp)n   QFS pp","u":10.2,"v":15.5},{"t":"E=19 MeV","u":11.7,"v":8.0}]},"mark":{"type":"text","align":"left","baseline":"middle","fontSize":12},
  "encoding":{"text":{"field":"t"},"x":{"field":"u","type":"quantitative","scale":{"domain":[-1.6,76],"range":[0,270],"nice":false,"zero":false},"axis":null},"y":{"field":"v","type":"quantitative","scale":{"type":"log","domain":[2.02,70.8],"range":[270,141],"nice":false},"axis":null}}},
 {"data":{"values":[{"t":"10¹","v":10}]},"mark":{"type":"text","align":"right","baseline":"middle","dx":-3,"fontSize":12},
  "encoding":{"text":{"field":"t"},"x":{"datum":-1.6,"type":"quantitative","scale":{"domain":[-1.6,76],"range":[0,270],"nice":false,"zero":false},"axis":null},"y":{"field":"v","type":"quantitative","scale":{"type":"log","domain":[2.02,70.8],"range":[270,141],"nice":false},"axis":null}}},
 {"data":{"values":[{"t":"d⁵σ/dSdΩ₁dΩ₂ [mb/MeV sr²]","u":-10.6,"v":4.37}]},"mark":{"type":"text","align":"center","baseline":"middle","angle":270,"fontSize":12},
  "encoding":{"text":{"field":"t"},"x":{"field":"u","type":"quantitative","scale":{"domain":[-1.6,76],"range":[0,270],"nice":false,"zero":false},"axis":null},"y":{"field":"v","type":"quantitative","scale":{"type":"log","domain":[2.02,70.8],"range":[270,141],"nice":false},"axis":null}}}
]},
{"layer":[
 {"transform":[{"filter":"datum.p==2&&datum.r=='l'"}],"mark":{"type":"line","color":"#000","strokeWidth":0.9,"strokeDash":[4,2,1,2,1,2]},
  "encoding":{"x":{"field":"x","type":"quantitative","scale":{"domain":[-1.6,76],"range":[0,270],"nice":false,"zero":false},"axis":{"orient":"bottom","offset":-144,"values":[0,2.5,5,7.5,10,12.5,15,17.5,20,22.5,25,27.5,30,32.5,35,37.5,40,42.5,45,47.5,50,52.5,55,57.5,60,62.5,65,67.5,70,72.5,75],"labels":false,"tickSize":-4,"title":null}},
  "y":{"field":"y","type":"quantitative","scale":{"type":"log","domain":[0.01,1],"range":[290,270],"nice":false},"axis":{"orient":"right","values":[0.01,0.02,0.03,0.04,0.05,0.06,0.07,0.08,0.09,0.1,0.2,0.3,0.4,0.5,0.6,0.7,0.8,0.9,1],"labels":false,"tickSize":-3,"title":null}},
  "detail":{"field":"br"}}},
 {"data":{"values":[{}]},"mark":{"type":"rule","color":"#555","strokeWidth":2},"encoding":{"y":{"datum":1,"type":"quantitative","scale":{"type":"log","domain":[0.01,1],"range":[290,270],"nice":false},"axis":null}}},
 {"data":{"values":[{}]},"mark":{"type":"rule","color":"#000","strokeWidth":1},"encoding":{"y":{"datum":0.01,"type":"quantitative","scale":{"type":"log","domain":[0.01,1],"range":[290,270],"nice":false},"axis":null}}},
 {"data":{"values":[{"t":"10⁰","v":1},{"t":"10⁻²","v":0.01}]},"mark":{"type":"text","align":"left","baseline":"middle","dx":4,"fontSize":12},
  "encoding":{"text":{"field":"t"},"x":{"datum":76,"type":"quantitative","scale":{"domain":[-1.6,76],"range":[0,270],"nice":false,"zero":false},"axis":null},"y":{"field":"v","type":"quantitative","scale":{"type":"log","domain":[0.01,1],"range":[290,270],"nice":false},"axis":null}}}
]},
{"layer":[
 {"data":{"values":[{}]},"mark":{"type":"rect","fill":"#fff","stroke":"#000","strokeWidth":1},
  "encoding":{"x":{"datum":0,"type":"quantitative","scale":{"domain":[0,76],"range":[178,264],"nice":false,"zero":false},"axis":{"orient":"bottom","offset":-232,"zindex":1,"values":[0,5,10,15,20,25,30,35,40,45,50,55,60,65,70,75],"labels":false,"tickSize":-2,"title":null}},"x2":{"datum":76},
  "y":{"datum":16.8,"type":"quantitative","scale":{"type":"log","domain":[16.8,376],"range":[202,148],"nice":false},"axis":{"orient":"left","offset":-178,"zindex":1,"values":[20,30,40,50,60,70,80,90,100,200,300],"labels":false,"tickSize":-2,"title":null}},"y2":{"datum":376}}},
 {"transform":[{"filter":"datum.p==2&&datum.r=='i'"}],"mark":{"type":"line","strokeWidth":1.1},
  "encoding":{"x":{"field":"x","type":"quantitative","scale":{"domain":[0,76],"range":[178,264],"nice":false,"zero":false},"axis":null},"y":{"field":"y","type":"quantitative","scale":{"type":"log","domain":[16.8,376],"range":[202,148],"nice":false},"axis":null},
  "color":{"field":"s","type":"nominal","scale":{"domain":["k","r","b"],"range":["#000000","#ff0000","#0000ff"]},"legend":null},
  "strokeDash":{"field":"s","type":"nominal","scale":{"domain":["k","r","b"],"range":[[4,2,1,2,1,2],[1,0],[5,2.5]]},"legend":null}}},
 {"data":{"values":[{"t":"p(p,p)p","u":1.5,"v":59.6},{"t":"E=20 MeV","u":1.5,"v":33.5}]},"mark":{"type":"text","align":"left","baseline":"middle","fontSize":7.5},
  "encoding":{"text":{"field":"t"},"x":{"field":"u","type":"quantitative","scale":{"domain":[0,76],"range":[178,264],"nice":false,"zero":false},"axis":null},"y":{"field":"v","type":"quantitative","scale":{"type":"log","domain":[16.8,376],"range":[202,148],"nice":false},"axis":null}}},
 {"data":{"values":[{"t":"0","u":0},{"t":"30","u":30},{"t":"60","u":60}]},"mark":{"type":"text","align":"center","baseline":"top","dy":3,"fontSize":7.5},
  "encoding":{"text":{"field":"t"},"x":{"field":"u","type":"quantitative","scale":{"domain":[0,76],"range":[178,264],"nice":false,"zero":false},"axis":null},"y":{"datum":16.8,"type":"quantitative","scale":{"type":"log","domain":[16.8,376],"range":[202,148],"nice":false},"axis":null}}},
 {"data":{"values":[{"t":"10²","v":100}]},"mark":{"type":"text","align":"right","baseline":"middle","dx":-2,"fontSize":7.5},
  "encoding":{"text":{"field":"t"},"x":{"datum":0,"type":"quantitative","scale":{"domain":[0,76],"range":[178,264],"nice":false,"zero":false},"axis":null},"y":{"field":"v","type":"quantitative","scale":{"type":"log","domain":[16.8,376],"range":[202,148],"nice":false},"axis":null}}}
]},
{"layer":[
 {"transform":[{"filter":"datum.p==3&&datum.r=='m'&&datum.s=='d'"}],"mark":{"type":"line","color":"#7a2a5a","strokeWidth":2,"strokeDash":[0.1,6],"strokeCap":"round"},
  "encoding":{"x":{"field":"x","type":"quantitative","scale":{"domain":[-1.6,76],"range":[0,270],"nice":false,"zero":false},"axis":{"orient":"bottom","values":[0,2.5,5,7.5,10,12.5,15,17.5,20,22.5,25,27.5,30,32.5,35,37.5,40,42.5,45,47.5,50,52.5,55,57.5,60,62.5,65,67.5,70,72.5,75],"labels":false,"tickSize":-4,"title":null}},
  "y":{"field":"y","type":"quantitative","scale":{"type":"log","domain":[0.81,152],"range":[415,290],"nice":false},"axis":{"orient":"left","values":[0.9,1,2,3,4,5,6,7,8,9,10,20,30,40,50,60,70,80,90,100],"labels":false,"tickSize":-4,"title":null}},
  "detail":{"field":"br"}}},
 {"transform":[{"filter":"datum.p==3&&datum.r=='m'&&datum.s=='m'"}],"mark":{"type":"line","color":"#ff00ff","strokeWidth":1.8,"strokeDash":[7,2.5,1.5,2.5]},
  "encoding":{"x":{"field":"x","type":"quantitative","scale":{"domain":[-1.6,76],"range":[0,270],"nice":false,"zero":false},"axis":null},"y":{"field":"y","type":"quantitative","scale":{"type":"log","domain":[0.81,152],"range":[415,290],"nice":false},"axis":null},"detail":{"field":"br"}}},
 {"transform":[{"filter":"datum.p==3&&datum.r=='m'&&(datum.s=='k'||datum.s=='r'||datum.s=='b')"}],"mark":{"type":"line","strokeWidth":1.1},
  "encoding":{"x":{"field":"x","type":"quantitative","scale":{"domain":[-1.6,76],"range":[0,270],"nice":false,"zero":false},"axis":null},"y":{"field":"y","type":"quantitative","scale":{"type":"log","domain":[0.81,152],"range":[415,290],"nice":false},"axis":null},
  "color":{"field":"s","type":"nominal","scale":{"domain":["k","r","b"],"range":["#000000","#ff0000","#0000ff"]},"legend":null},
  "strokeDash":{"field":"s","type":"nominal","scale":{"domain":["k","r","b"],"range":[[4,2,1,2,1,2],[1,0],[5,2.5]]},"legend":null},"detail":{"field":"br"}}},
 {"transform":[{"filter":"datum.p==3&&datum.r=='m'&&datum.s=='g'"}],"mark":{"type":"line","color":"#00e000","strokeWidth":3.2,"strokeDash":[0.1,10],"strokeCap":"round"},
  "encoding":{"x":{"field":"x","type":"quantitative","scale":{"domain":[-1.6,76],"range":[0,270],"nice":false,"zero":false},"axis":null},"y":{"field":"y","type":"quantitative","scale":{"type":"log","domain":[0.81,152],"range":[415,290],"nice":false},"axis":null},"detail":{"field":"br"}}},
 {"data":{"values":[{"t":"E=65 MeV","u":48.5,"v":10}]},"mark":{"type":"text","align":"left","baseline":"middle","fontSize":12},
  "encoding":{"text":{"field":"t"},"x":{"field":"u","type":"quantitative","scale":{"domain":[-1.6,76],"range":[0,270],"nice":false,"zero":false},"axis":null},"y":{"field":"v","type":"quantitative","scale":{"type":"log","domain":[0.81,152],"range":[415,290],"nice":false},"axis":null}}},
 {"data":{"values":[{"t":"10⁰","v":1},{"t":"10¹","v":10},{"t":"10²","v":100}]},"mark":{"type":"text","align":"right","baseline":"middle","dx":-3,"fontSize":12},
  "encoding":{"text":{"field":"t"},"x":{"datum":-1.6,"type":"quantitative","scale":{"domain":[-1.6,76],"range":[0,270],"nice":false,"zero":false},"axis":null},"y":{"field":"v","type":"quantitative","scale":{"type":"log","domain":[0.81,152],"range":[415,290],"nice":false},"axis":null}}}
]},
{"layer":[
 {"transform":[{"filter":"datum.p==3&&datum.r=='l'"}],"mark":{"type":"line","color":"#000","strokeWidth":0.9,"strokeDash":[4,2,1,2,1,2]},
  "encoding":{"x":{"field":"x","type":"quantitative","scale":{"domain":[-1.6,76],"range":[0,270],"nice":false,"zero":false},"axis":{"orient":"top","offset":-290,"values":[0,2.5,5,7.5,10,12.5,15,17.5,20,22.5,25,27.5,30,32.5,35,37.5,40,42.5,45,47.5,50,52.5,55,57.5,60,62.5,65,67.5,70,72.5,75],"labels":false,"tickSize":-4,"title":null}},
  "y":{"field":"y","type":"quantitative","scale":{"type":"log","domain":[0.01,1],"range":[434,415],"nice":false},"axis":{"orient":"right","values":[0.01,0.02,0.03,0.04,0.05,0.06,0.07,0.08,0.09,0.1,0.2,0.3,0.4,0.5,0.6,0.7,0.8,0.9,1],"labels":false,"tickSize":-3,"title":null}},
  "detail":{"field":"br"}}},
 {"data":{"values":[{}]},"mark":{"type":"rule","color":"#555","strokeWidth":2},"encoding":{"y":{"datum":1,"type":"quantitative","scale":{"type":"log","domain":[0.01,1],"range":[434,415],"nice":false},"axis":null}}},
 {"data":{"values":[{}]},"mark":{"type":"rule","color":"#000","strokeWidth":1},"encoding":{"y":{"datum":0.01,"type":"quantitative","scale":{"type":"log","domain":[0.01,1],"range":[434,415],"nice":false},"axis":null}}},
 {"data":{"values":[{"t":"10⁻²","v":0.01}]},"mark":{"type":"text","align":"left","baseline":"middle","dx":4,"fontSize":12},
  "encoding":{"text":{"field":"t"},"x":{"datum":76,"type":"quantitative","scale":{"domain":[-1.6,76],"range":[0,270],"nice":false,"zero":false},"axis":null},"y":{"field":"v","type":"quantitative","scale":{"type":"log","domain":[0.01,1],"range":[434,415],"nice":false},"axis":null}}},
 {"data":{"values":[{"t":"0","u":0},{"t":"20","u":20},{"t":"40","u":40},{"t":"60","u":60}]},"mark":{"type":"text","align":"center","baseline":"top","dy":4,"fontSize":12},
  "encoding":{"text":{"field":"t"},"x":{"field":"u","type":"quantitative","scale":{"domain":[-1.6,76],"range":[0,270],"nice":false,"zero":false},"axis":null},"y":{"datum":0.01,"type":"quantitative","scale":{"type":"log","domain":[0.01,1],"range":[434,415],"nice":false},"axis":null}}},
 {"data":{"values":[{"t":"θ₁ˡᵃᵇ [deg]","u":38.6}]},"mark":{"type":"text","align":"center","baseline":"middle","dy":26,"fontSize":12},
  "encoding":{"text":{"field":"t"},"x":{"field":"u","type":"quantitative","scale":{"domain":[-1.6,76],"range":[0,270],"nice":false,"zero":false},"axis":null},"y":{"datum":0.01,"type":"quantitative","scale":{"type":"log","domain":[0.01,1],"range":[434,415],"nice":false},"axis":null}}}
]},
{"layer":[
 {"data":{"values":[{}]},"mark":{"type":"rect","fill":"#fff","stroke":"#000","strokeWidth":1},
  "encoding":{"x":{"datum":0,"type":"quantitative","scale":{"domain":[0,76],"range":[58,145],"nice":false,"zero":false},"axis":{"orient":"bottom","offset":-59,"zindex":1,"values":[0,5,10,15,20,25,30,35,40,45,50,55,60,65,70,75],"labels":false,"tickSize":-2,"title":null}},"x2":{"datum":76},
  "y":{"datum":6.6,"type":"quantitative","scale":{"type":"log","domain":[6.6,226],"range":[375,306],"nice":false},"axis":{"orient":"left","offset":-58,"zindex":1,"values":[7,8,9,10,20,30,40,50,60,70,80,90,100,200],"labels":false,"tickSize":-2,"title":null}},"y2":{"datum":226}}},
 {"transform":[{"filter":"datum.p==3&&datum.r=='i'"}],"mark":{"type":"line","strokeWidth":1.1},
  "encoding":{"x":{"field":"x","type":"quantitative","scale":{"domain":[0,76],"range":[58,145],"nice":false,"zero":false},"axis":null},"y":{"field":"y","type":"quantitative","scale":{"type":"log","domain":[6.6,226],"range":[375,306],"nice":false},"axis":null},
  "color":{"field":"s","type":"nominal","scale":{"domain":["k","r","b"],"range":["#000000","#ff0000","#0000ff"]},"legend":null},
  "strokeDash":{"field":"s","type":"nominal","scale":{"domain":["k","r","b"],"range":[[4,2,1,2,1,2],[1,0],[5,2.5]]},"legend":null}}},
 {"data":{"values":[{"t":"p(p,p)p","u":32.3,"v":111},{"t":"E=65 MeV","u":24.5,"v":66.4}]},"mark":{"type":"text","align":"left","baseline":"middle","fontSize":7.5},
  "encoding":{"text":{"field":"t"},"x":{"field":"u","type":"quantitative","scale":{"domain":[0,76],"range":[58,145],"nice":false,"zero":false},"axis":null},"y":{"field":"v","type":"quantitative","scale":{"type":"log","domain":[6.6,226],"range":[375,306],"nice":false},"axis":null}}},
 {"data":{"values":[{"t":"0","u":0},{"t":"30","u":30},{"t":"60","u":60}]},"mark":{"type":"text","align":"center","baseline":"top","dy":3,"fontSize":7.5},
  "encoding":{"text":{"field":"t"},"x":{"field":"u","type":"quantitative","scale":{"domain":[0,76],"range":[58,145],"nice":false,"zero":false},"axis":null},"y":{"datum":6.6,"type":"quantitative","scale":{"type":"log","domain":[6.6,226],"range":[375,306],"nice":false},"axis":null}}},
 {"data":{"values":[{"t":"10¹","v":10},{"t":"10²","v":100}]},"mark":{"type":"text","align":"right","baseline":"middle","dx":-2,"fontSize":7.5},
  "encoding":{"text":{"field":"t"},"x":{"datum":0,"type":"quantitative","scale":{"domain":[0,76],"range":[58,145],"nice":false,"zero":false},"axis":null},"y":{"field":"v","type":"quantitative","scale":{"type":"log","domain":[6.6,226],"range":[375,306],"nice":false},"axis":null}}}
]}
],
"resolve":{"scale":{"x":"independent","y":"independent"},"axis":{"x":"independent","y":"independent"}}
}
